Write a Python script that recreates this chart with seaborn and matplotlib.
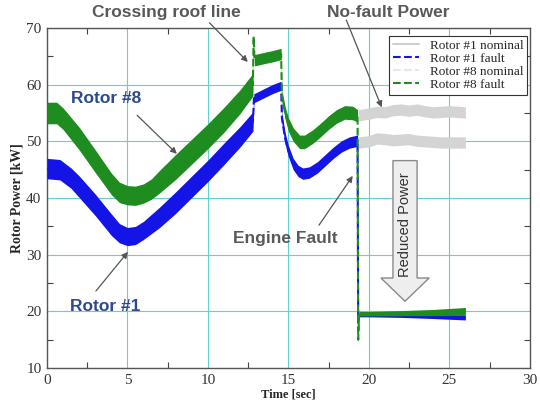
import matplotlib
matplotlib.use("Agg")  # Sin pantalla
import matplotlib.pyplot as plt
import seaborn as sns
from matplotlib.patches import FancyArrow
from matplotlib.ticker import MultipleLocator

# --- Datos ---
# Rotor #8 con falla (verde): tiempo, potencia central, medio espesor de la banda
t_r8_fault = [0, 0.6, 1, 2, 3, 4, 4.5, 5, 5.5, 6, 6.5, 7, 8, 9, 10, 11, 12, 12.8,
              12.84, 12.9, 13.5, 14, 14.55, 14.6, 14.8, 15.0, 15.3, 15.7, 16.0, 16.5,
              17, 17.5, 18, 18.5, 19, 19.3, 19.34, 19.4, 20, 22, 24, 26]
p_r8_fault = [55, 55, 54, 50.5, 46.5, 42.5, 41, 40.5, 40.4, 40.8, 41.6, 42.9, 45.5, 48.2,
              50.9, 53.8, 57, 60, 68.5, 64.3, 64.7, 65, 65.4, 58, 55, 53, 51.2, 49.9,
              49.9, 50.8, 52, 53.3, 54.4, 55.1, 55, 54.5, 15, 19.6, 19.6, 19.7, 19.8, 20]
h_r8_fault = [1.9, 1.9, 1.9, 2.0, 2.0, 1.9, 1.8, 1.7, 1.7, 1.7, 1.8, 2.0, 2.2, 2.2,
              2.2, 2.2, 2.1, 2.0, 0.3, 1.0, 1.0, 1.0, 1.0, 1.0, 1.1, 1.2, 1.2, 1.2,
              1.2, 1.2, 1.2, 1.2, 1.2, 1.2, 1.2, 1.1, 0.2, 0.4, 0.4, 0.45, 0.55, 0.7]

# Rotor #1 con falla (azul)
t_r1_fault = [0, 0.8, 1.5, 2, 3, 4, 4.5, 5, 5.5, 6, 7, 8, 9, 10, 11, 12, 12.8,
              12.86, 13.5, 14, 14.55, 14.6, 14.8, 15.0, 15.3, 15.6, 15.9, 16.3, 16.8,
              17.3, 17.8, 18.3, 18.8, 19.3, 19.34, 19.4, 20, 22, 24, 26]
p_r1_fault = [45.2, 45, 43.5, 42, 38.8, 35.3, 33.8, 33.2, 33.4, 34.3, 36.6, 39.2, 42,
              44.8, 47.8, 50.8, 53.5, 57.6, 58.5, 59.2, 59.8, 54, 50.5, 48.3, 46, 44.8,
              44.3, 44.5, 45.4, 46.7, 48, 49.1, 49.8, 50.1, 18, 19.4, 19.4, 19.3, 19.1, 18.9]
h_r1_fault = [1.8, 1.8, 1.8, 1.9, 1.9, 1.9, 1.7, 1.6, 1.6, 1.6, 1.8, 1.9, 1.9,
              1.9, 1.9, 1.8, 1.7, 0.8, 0.8, 0.8, 0.8, 1.0, 1.0, 1.0, 1.0, 1.0,
              1.0, 1.0, 1.0, 1.0, 1.0, 1.0, 1.0, 1.0, 0.2, 0.35, 0.35, 0.35, 0.35, 0.4]

# Potencias nominales (gris), despues de la falla
t_nominal = [19.35, 20, 20.5, 21, 21.5, 22, 22.5, 23, 23.5, 24, 24.5, 25, 26]
p_r8_nominal = [54.6, 54.9, 55.2, 55.1, 55.5, 55.6, 55.4, 55.6, 55.3, 55.1, 55.2, 55.3, 55.1]
p_r1_nominal = [49.8, 50.0, 50.5, 50.4, 50.2, 50.3, 50.4, 50.1, 50.0, 49.9, 49.8, 49.8, 49.8]
h_nominal = 1.0

# Ejes
x_ticks = [0, 5, 10, 15, 20, 25, 30]
y_ticks = [10, 20, 30, 40, 50, 60, 70]

# Colores
VERDE = "#1e8c1e"
AZUL = "#1414e6"
GRIS_NOM = "#d4d4d4"
GRIS_TXT = "#595959"
AZUL_TXT = "#2c4a8e"

sns.set_style("ticks")
plt.rcParams["font.family"] = ["Liberation Serif", "DejaVu Serif"]

fig, ax = plt.subplots(figsize=(5.4, 4.05), dpi=100)
fig.subplots_adjust(left=0.087, right=0.981, top=0.931, bottom=0.091)

# --- Bandas (oscilacion) ---
def banda(t, p, h, color, z):
    if not isinstance(h, list):
        h = [h] * len(t)
    low = [a - b for a, b in zip(p, h)]
    up = [a + b for a, b in zip(p, h)]
    ax.fill_between(t, low, up, color=color, lw=0, zorder=z)

banda(t_nominal, p_r8_nominal, h_nominal, GRIS_NOM, 2)
banda(t_nominal, p_r1_nominal, h_nominal, GRIS_NOM, 2)
banda(t_r1_fault, p_r1_fault, h_r1_fault, AZUL, 3)
banda(t_r8_fault, p_r8_fault, h_r8_fault, VERDE, 4)

# Lineas centrales (dan tambien la leyenda)
sns.lineplot(x=t_nominal, y=p_r1_nominal, ax=ax, color="#cfcfcf", lw=1.5,
             label="Rotor #1 nominal", sort=False, zorder=1.5)
sns.lineplot(x=t_r1_fault, y=p_r1_fault, ax=ax, color=AZUL, lw=1.5, linestyle="--",
             label="Rotor #1 fault", sort=False, zorder=3)
sns.lineplot(x=t_nominal, y=p_r8_nominal, ax=ax, color="#e8e8e8", lw=1.5, linestyle="--",
             label="Rotor #8 nominal", sort=False, zorder=1.5)
sns.lineplot(x=t_r8_fault, y=p_r8_fault, ax=ax, color=VERDE, lw=1.5, linestyle="--",
             label="Rotor #8 fault", sort=False, zorder=4)

# --- Ejes, rejilla y ticks ---
ax.set_xlim(x_ticks[0], x_ticks[-1])
ax.set_ylim(y_ticks[0], y_ticks[-1])
ax.set_xticks(x_ticks)
ax.set_yticks(y_ticks)
ax.xaxis.set_minor_locator(MultipleLocator(2.5))
ax.yaxis.set_minor_locator(MultipleLocator(5))
ax.grid(True, which="major", color="#5fd3d3", lw=0.8, zorder=0)
ax.set_axisbelow(True)
ax.tick_params(which="major", direction="in", length=0, labelsize=11,
               labelcolor="#333333", pad=4)
ax.tick_params(which="minor", direction="in", length=4, width=0.8, color="#444444",
               top=True, right=True)
for s in ax.spines.values():
    s.set_color("#555555")
    s.set_linewidth(1.0)

ax.set_xlabel("Time [sec]", fontsize=9, fontweight="bold", labelpad=1)
ax.set_ylabel("Rotor Power [kW]", fontsize=10, fontweight="bold", labelpad=2)

# --- Leyenda ---
h, l = ax.get_legend_handles_labels()
leg = ax.legend(h, l, loc="upper right", bbox_to_anchor=(0.995, 0.977), borderaxespad=0,
                fontsize=9.5, fancybox=False, framealpha=1, edgecolor="#333333",
                handlelength=2.0, labelspacing=0.05, borderpad=0.3, handletextpad=0.8)
leg.get_frame().set_linewidth(0.8)
leg.set_zorder(10)

# --- Anotaciones ---
sans = ["Liberation Sans", "DejaVu Sans"]
flecha = dict(arrowstyle="-|>", color="#555555", lw=0.9, mutation_scale=9,
              shrinkA=0, shrinkB=0)

ax.text(7.45, 72.8, "Crossing roof line", ha="center", va="center", fontsize=12.5,
        fontweight="bold", color=GRIS_TXT, family=sans, clip_on=False)
ax.annotate("", xy=(12.48, 64.0), xytext=(10.1, 70.9), arrowprops=flecha,
            annotation_clip=False)

ax.text(21.2, 72.8, "No-fault Power", ha="center", va="center", fontsize=12.5,
        fontweight="bold", color=GRIS_TXT, family=sans, clip_on=False)
ax.annotate("", xy=(20.8, 56.0), xytext=(18.6, 71.4), arrowprops=flecha,
            annotation_clip=False)

ax.text(3.66, 57.6, "Rotor #8", ha="center", va="center", fontsize=12.5,
        fontweight="bold", color=AZUL_TXT, family=sans)
ax.annotate("", xy=(8.07, 47.8), xytext=(5.6, 54.6), arrowprops=flecha)

ax.text(3.6, 20.8, "Rotor #1", ha="center", va="center", fontsize=12.5,
        fontweight="bold", color=AZUL_TXT, family=sans)
ax.annotate("", xy=(5.03, 30.5), xytext=(3.04, 23.6), arrowprops=flecha)

ax.text(14.8, 32.9, "Engine Fault", ha="center", va="center", fontsize=12.5,
        fontweight="bold", color=GRIS_TXT, family=sans)
ax.annotate("", xy=(19.0, 43.9), xytext=(16.9, 35.2), arrowprops=flecha)

# Flecha gruesa "Reduced Power"
ax.add_patch(FancyArrow(22.25, 46.6, 0, -24.8, width=1.5, head_width=3.0,
                        head_length=4.1, length_includes_head=True,
                        facecolor="#eeeeee", edgecolor="#8a8a8a", lw=1, zorder=5))
ax.text(22.25, 35.3, "Reduced Power", rotation=90, ha="center", va="center",
        fontsize=10.5, color="#333333", family=sans, zorder=6)

fig.savefig("out.png", dpi=100)
